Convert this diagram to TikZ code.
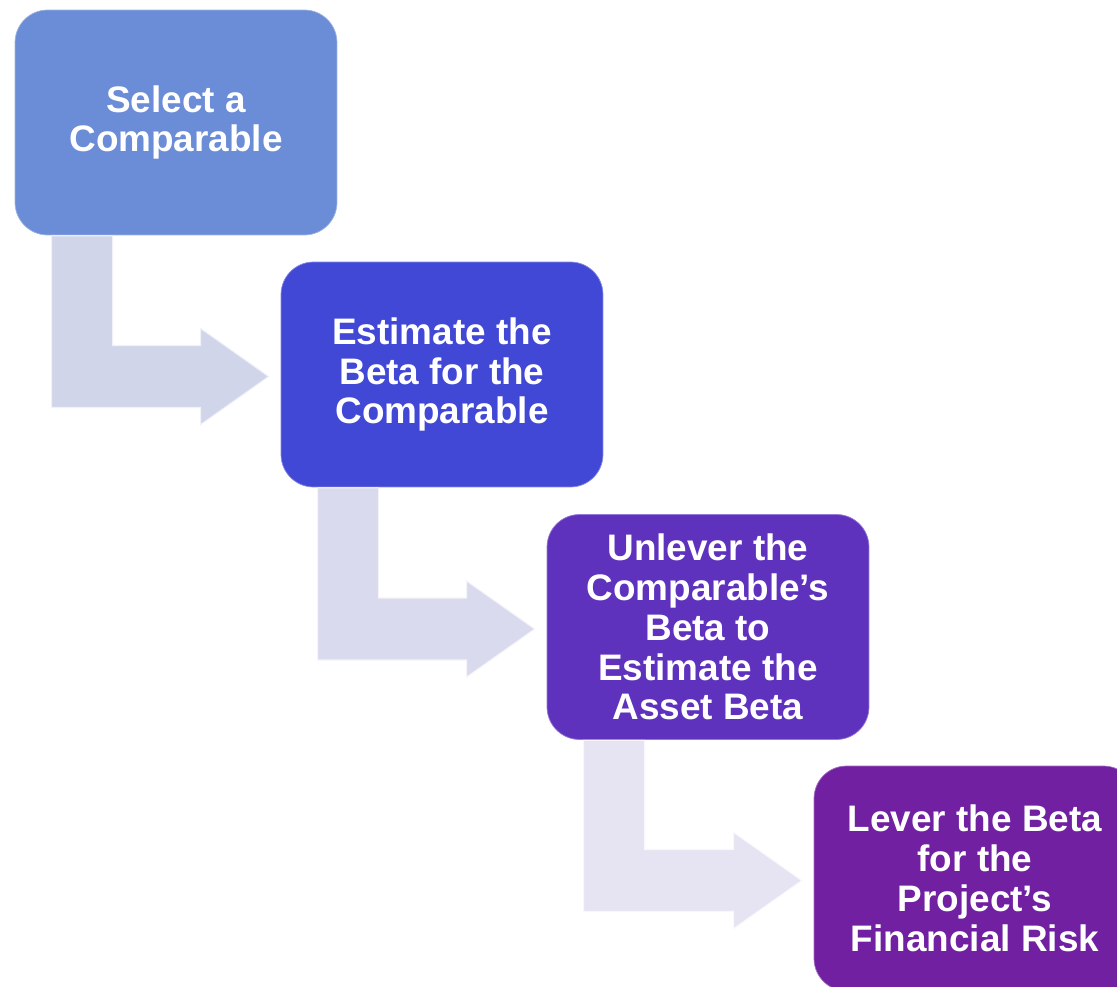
\documentclass[tikz,border=0pt]{standalone}
\usepackage{fontspec}
\setmainfont{Liberation Sans}
\usetikzlibrary{calc}
\definecolor{stepone}{RGB}{107,140,214}
\definecolor{steptwo}{RGB}{66,72,214}
\definecolor{stepthree}{RGB}{95,50,190}
\definecolor{stepfour}{RGB}{112,32,160}
\definecolor{bentone}{RGB}{208,213,234}
\definecolor{benttwo}{RGB}{218,218,238}
\definecolor{bentthree}{RGB}{230,228,242}
\begin{document}
\begin{tikzpicture}[x=0.02cm, y=-0.02cm,
        stepbox/.style={rounded corners=0.65cm, minimum width=6.44cm,
            minimum height=4.5cm, inner sep=0pt, align=center, text=white,
            font=\fontsize{21}{22.7}\selectfont\bfseries},
        bent/.style={fill=#1, draw=white!70!#1, line width=0.6pt}]
    \clip (0,0) rectangle (1117,987);

    \node[stepbox, fill=stepone, draw=white!35!stepone] (select) at (176,122.5)
        {Select a\\Comparable};
    \node[stepbox, fill=steptwo, draw=white!35!steptwo] (estimate) at (442,374.5)
        {Estimate the\\Beta for the\\Comparable};
    \node[stepbox, fill=stepthree, draw=white!35!stepthree] (unlever) at (708,627)
        {Unlever the\\Comparable’s\\Beta to\\Estimate the\\Asset Beta};
    \node[stepbox, fill=stepfour, draw=white!35!stepfour] (lever) at (975,878.5)
        {Lever the Beta\\for the\\Project’s\\Financial Risk};

    % bent arrows from each step to the next
    \foreach \from/\to/\col in {select/estimate/bentone,
            estimate/unlever/benttwo, unlever/lever/bentthree}{
        \coordinate (tip) at ($(\to.west)+(-12,2)$);
        \draw[bent=\col] ($(\from.south west)+(37,0.5)$) -- ++(61,0)
            |- ($(tip)+(-68,-31)$) -- ++(0,-17) -- (tip)
            -- ++(-68,48) -- ++(0,-17) -| ($(\from.south west)+(37,0.5)$)
            -- cycle;
    }
\end{tikzpicture}
\end{document}
